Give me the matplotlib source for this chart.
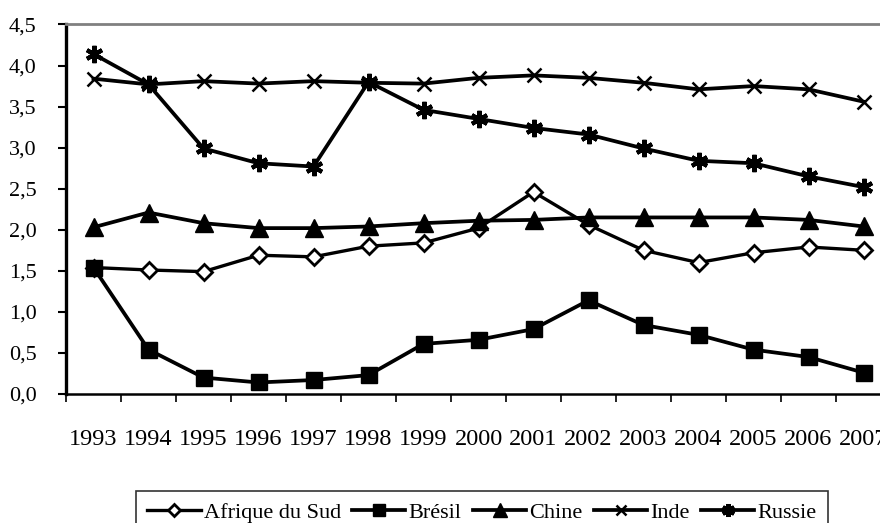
import matplotlib.pyplot as plt
import numpy as np
from matplotlib.ticker import FixedLocator, FuncFormatter

plt.rcParams["font.family"] = ["Liberation Serif", "DejaVu Serif"]

years = ["1993", "1994", "1995", "1996", "1997", "1998", "1999", "2000",
         "2001", "2002", "2003", "2004", "2005", "2006", "2007"]

afrique_du_sud = [1.54, 1.51, 1.49, 1.69, 1.67, 1.80, 1.84, 2.02, 2.46,
                  2.06, 1.75, 1.60, 1.72, 1.79, 1.75]
bresil = [1.54, 0.54, 0.20, 0.14, 0.17, 0.23, 0.61, 0.66, 0.79,
          1.14, 0.84, 0.72, 0.54, 0.45, 0.26]
chine = [2.03, 2.21, 2.08, 2.02, 2.02, 2.04, 2.08, 2.11, 2.12,
         2.15, 2.15, 2.15, 2.15, 2.12, 2.04]
inde = [3.84, 3.77, 3.81, 3.78, 3.81, 3.79, 3.78, 3.85, 3.88,
        3.85, 3.79, 3.71, 3.75, 3.71, 3.56]
russie = [4.14, 3.77, 2.99, 2.81, 2.77, 3.80, 3.46, 3.35, 3.24,
          3.16, 2.99, 2.84, 2.81, 2.65, 2.52]

fig = plt.figure(figsize=(8.8, 5.23), dpi=100)
ax = fig.add_axes([0.075, 0.2467, 0.9375, 0.7065])

x = np.arange(len(years))
lw = 2.7
ax.plot(x, afrique_du_sud, color="black", lw=2.4, marker="D", markersize=8.5,
        markerfacecolor="white", markeredgecolor="black", markeredgewidth=2.0,
        label="Afrique du Sud")
ax.plot(x, bresil, color="black", lw=lw, marker="s", markersize=11.5,
        label="Brésil")
ax.plot(x, chine, color="black", lw=lw, marker="^", markersize=12.5,
        label="Chine")
ax.plot(x, inde, color="black", lw=lw, marker="x", markersize=10.5,
        markeredgewidth=1.8, label="Inde")
ax.plot(x, russie, color="black", lw=lw, marker=(6, 2, 0), markersize=12.5,
        markeredgewidth=3.0, label="Russie")

ax.set_xlim(-0.5, len(years) - 0.5)
ax.set_ylim(0, 4.5)

# category boundaries carry the tick marks, labels sit in the middle
ax.xaxis.set_major_locator(FixedLocator(np.arange(-0.5, len(years), 1.0)))
ax.xaxis.set_minor_locator(FixedLocator(x))
ax.xaxis.set_major_formatter(FuncFormatter(lambda v, p: ""))
ax.xaxis.set_minor_formatter(FuncFormatter(lambda v, p: years[int(round(v))]))
ax.tick_params(axis="x", which="major", direction="out", length=6, width=1.2)
ax.tick_params(axis="x", which="minor", length=0, pad=25, labelsize=17.5)

ax.set_yticks(np.arange(0, 4.51, 0.5))
ax.yaxis.set_major_formatter(FuncFormatter(lambda v, p: f"{v:.1f}".replace(".", ",")))
ax.tick_params(axis="y", direction="out", length=6, width=1.5, pad=15, labelsize=16)

ax.spines["left"].set_linewidth(2.4)
ax.spines["bottom"].set_linewidth(1.8)
ax.spines["top"].set_color("#808080")
ax.spines["top"].set_linewidth(2.0)
ax.spines["right"].set_color("#808080")
ax.spines["right"].set_linewidth(2.0)

leg = fig.legend(loc="upper left", bbox_to_anchor=(125 / 880, 1 - 480 / 523),
                 ncol=5, fontsize=16, frameon=True, fancybox=False,
                 edgecolor="black", handlelength=2.4, handletextpad=0.15,
                 columnspacing=0.5, borderpad=0.5, markerscale=0.75)
leg.get_frame().set_linewidth(1.2)

fig.savefig("out.png", dpi=100)
